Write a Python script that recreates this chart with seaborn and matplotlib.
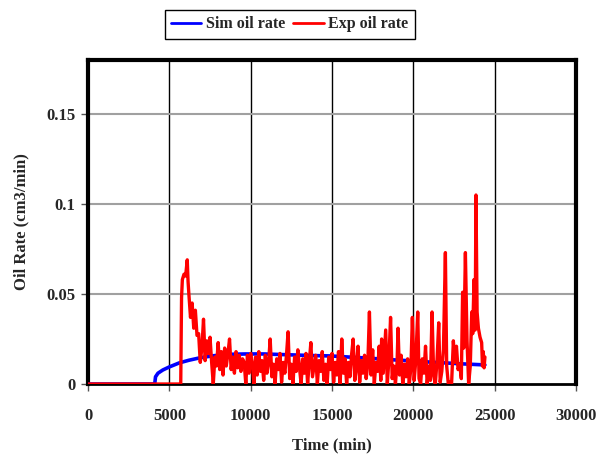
import matplotlib
matplotlib.use("Agg")
import matplotlib.pyplot as plt
import seaborn as sns
import pandas as pd

sim_time = [0, 4100, 4150, 4300, 4600, 5000, 5600, 6200, 6900, 7700, 8700, 9700,
            10800, 11800, 12800, 13800, 14900, 16000, 17000, 18000, 19000, 20000,
            21000, 22000, 23000, 24400]
sim_rate = [0, 0, 0.004, 0.006, 0.0078, 0.0095, 0.0117, 0.0132, 0.0146, 0.0157, 0.0165, 0.0167,
            0.0167, 0.0164, 0.0161, 0.0158, 0.0156, 0.0150, 0.0145, 0.0139, 0.0133, 0.0128,
            0.0122, 0.0117, 0.0112, 0.0106]

exp_time = [0, 5700, 5750, 5800, 5900, 6000, 6100, 6150, 6200, 6300, 6400, 6500, 6600, 6700,
            6800, 6900, 7000, 7100, 7200, 7300, 7400, 7500, 7600, 7700, 7800, 7900, 8000,
            8100, 8200, 8300, 8400, 8500, 8600, 8700, 8800, 8900, 9000, 9100, 9200, 9300,
            9400, 9500, 9600, 9700, 9800, 9900, 10000, 10100, 10200, 10300, 10400, 10500,
            10600, 10700, 10800, 10900, 11000, 11100, 11200, 11300, 11400, 11500, 11600,
            11700, 11800, 11900, 12000, 12100, 12200, 12300, 12400, 12500, 12600, 12700,
            12800, 12900, 13000, 13100, 13200, 13300, 13400, 13500, 13600, 13700, 13800,
            13900, 14000, 14100, 14200, 14300, 14400, 14500, 14600, 14700, 14800, 14900,
            15000, 15100, 15200, 15300, 15400, 15500, 15600, 15700, 15800, 15900, 16000,
            16100, 16200, 16300, 16400, 16500, 16600, 16700, 16800, 16900, 17000, 17100,
            17200, 17300, 17400, 17500, 17600, 17700, 17800, 17900, 18000, 18050, 18150,
            18300, 18400, 18500, 18600, 18700, 18800, 18900, 19000, 19060, 19150, 19250,
            19350, 19450, 19550, 19650, 19750, 19850, 19940, 20050, 20150, 20270, 20350,
            20450, 20550, 20650, 20750, 20850, 20950, 21050, 21150, 21250, 21350, 21450,
            21560, 21650, 21750, 21850, 21970, 22050, 22150, 22250, 22350, 22460, 22550,
            22650, 22750, 22850, 22950, 23030, 23100, 23200, 23300, 23400, 23500, 23590,
            23650, 23730, 23800, 23850, 23920, 24000, 24100, 24200, 24250, 24300, 24350,
            24400]
exp_rate = [0, 0, 0.048, 0.058, 0.061, 0.060, 0.069, 0.057, 0.050, 0.037, 0.045, 0.031, 0.041,
            0.027, 0.028, 0.012, 0.020, 0.036, 0.013, 0.024, 0.017, 0.026, 0.012, 0.000, 0.015,
            0.010, 0.023, 0.008, 0.018, 0.005, 0.020, 0.010, 0.017, 0.025, 0.008, 0.015, 0.006,
            0.018, 0.009, 0.016, 0.007, 0.014, 0.012, 0.000, 0.016, 0.006, 0.017, 0.011, 0.000,
            0.015, 0.005, 0.018, 0.007, 0.013, 0.002, 0.016, 0.006, 0.012, 0.025, 0.004, 0.011,
            0.000, 0.014, 0.008, 0.017, 0.001, 0.012, 0.006, 0.016, 0.029, 0.003, 0.011, 0.000,
            0.015, 0.007, 0.019, 0.009, 0.000, 0.014, 0.006, 0.017, 0.000, 0.012, 0.023, 0.004,
            0.010, 0.016, 0.000, 0.013, 0.007, 0.018, 0.002, 0.011, 0.000, 0.015, 0.008, 0.017,
            0.001, 0.012, 0.005, 0.018, 0.000, 0.025, 0.006, 0.014, 0.000, 0.012, 0.004, 0.016,
            0.025, 0.002, 0.009, 0.021, 0.001, 0.013, 0.006, 0.016, 0.003, 0.011, 0.040, 0.005,
            0.019, 0.000, 0.012, 0.007, 0.021, 0.002, 0.025, 0.006, 0.030, 0.000, 0.014, 0.037,
            0.003, 0.010, 0.000, 0.012, 0.031, 0.005, 0.016, 0.000, 0.011, 0.004, 0.014, 0.000,
            0.009, 0.037, 0.002, 0.013, 0.040, 0.003, 0.000, 0.014, 0.006, 0.021, 0.000, 0.010,
            0.002, 0.040, 0.005, 0.000, 0.012, 0.034, 0.001, 0.007, 0.019, 0.073, 0.010, 0.000,
            0.001, 0.000, 0.024, 0.012, 0.021, 0.008, 0.011, 0.003, 0.051, 0.020, 0.073, 0.024,
            0.000, 0.010, 0.040, 0.028, 0.058, 0.030, 0.105, 0.040, 0.031, 0.026, 0.023, 0.010,
            0.018, 0.009, 0.015]

x_ticks = [0, 5000, 10000, 15000, 20000, 25000, 30000]
y_ticks = [0, 0.05, 0.1, 0.15]
y_tick_labels = ["0", "0.05", "0.1", "0.15"]

sns.set_style("white")
plt.rcParams["font.family"] = ["Liberation Serif", "DejaVu Serif"]
plt.rcParams["font.weight"] = "bold"

fig = plt.figure(figsize=(6.0, 4.57), dpi=100)
ax = fig.add_axes([0.1467, 0.1597, 0.8133, 0.709])

sim_df = pd.DataFrame({"t": sim_time, "q": sim_rate})
exp_df = pd.DataFrame({"t": exp_time, "q": exp_rate})

sns.lineplot(data=sim_df, x="t", y="q", ax=ax, color="#0000FF", lw=2.6,
             sort=False, estimator=None, label="Sim oil rate", zorder=3)
sns.lineplot(data=exp_df, x="t", y="q", ax=ax, color="#FF0000", lw=2.4,
             sort=False, estimator=None, label="Exp oil rate", zorder=4)

ax.set_xlim(0, 30000)
ax.set_ylim(0, 0.18)
ax.set_xticks(x_ticks)
ax.set_xticklabels([str(v) for v in x_ticks])
ax.set_yticks(y_ticks)
ax.set_yticklabels(y_tick_labels)

for v in x_ticks[1:-1]:
    ax.axvline(v, color="black", lw=1.0, zorder=1)
for v in y_ticks[1:]:
    ax.axhline(v, color="#A0A0A0", lw=1.5, zorder=1)

ax.tick_params(axis="both", direction="out", length=5, width=1, color="#555555",
               labelsize=12, pad=4, bottom=True, left=True)
ax.tick_params(axis="x", pad=12)
for lab in ax.get_xticklabels() + ax.get_yticklabels():
    lab.set_fontweight("bold")

for side, w in [("left", 3.0), ("top", 3.0), ("right", 3.0), ("bottom", 2.0)]:
    ax.spines[side].set_visible(True)
    ax.spines[side].set_color("black")
    ax.spines[side].set_linewidth(w)

ax.set_xlabel("Time (min)", fontsize=12, fontweight="bold", labelpad=10)
ax.set_ylabel("Oil Rate (cm3/min)", fontsize=12, fontweight="bold", labelpad=12)

leg = ax.legend(loc="upper center", bbox_to_anchor=(0.483, 0.978), bbox_transform=fig.transFigure,
                ncol=2, frameon=True, fancybox=False, edgecolor="black", framealpha=1,
                prop={"weight": "bold", "size": 11.5}, handlelength=1.9, columnspacing=0.5,
                handletextpad=0.3, borderpad=0.4, borderaxespad=0)
for h in leg.get_lines():
    h.set_linewidth(2.0)

fig.savefig("out.png", dpi=100)
